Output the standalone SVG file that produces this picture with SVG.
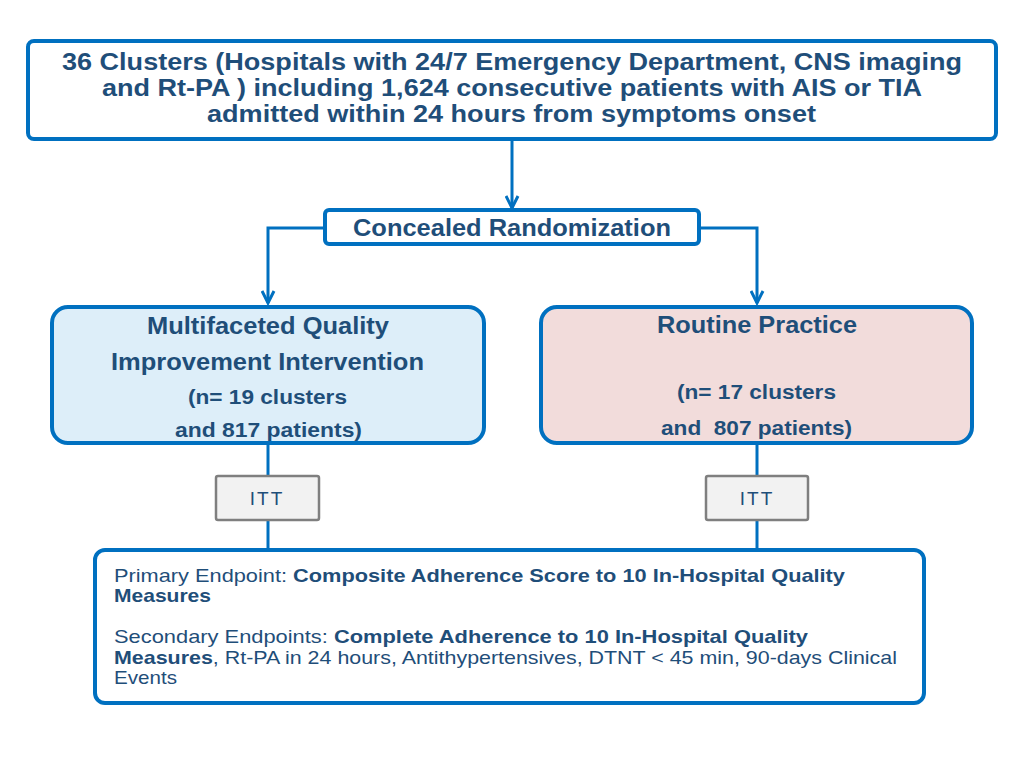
<svg xmlns="http://www.w3.org/2000/svg" width="1024" height="768" viewBox="0 0 1024 768">
<defs>
<style>
text{font-family:"Liberation Sans",Arial,sans-serif;fill:#1f4e79}
.b{font-weight:bold}
.box{stroke:#0070c0;stroke-width:4}
.ln{stroke:#0070c0;stroke-width:3;fill:none}
.itt{fill:#f2f2f2;stroke:#7f7f7f;stroke-width:2.5}
</style>
<marker id="ar" viewBox="0 0 10 10" refX="9" refY="5" markerWidth="5" markerHeight="5" orient="auto"><path d="M1,1 L9,5 L1,9" fill="none" stroke="#0070c0" stroke-width="2"/></marker>
</defs>
<g id="connectors">
<line class="ln" x1="512" y1="140" x2="512" y2="208" marker-end="url(#ar)"/>
<polyline class="ln" points="325,228 268,228 268,303" marker-end="url(#ar)"/>
<polyline class="ln" points="700,228 757,228 757,303" marker-end="url(#ar)"/>
<line class="ln" x1="268" y1="445" x2="268" y2="550"/>
<line class="ln" x1="757" y1="445" x2="757" y2="550"/>
</g>
<g id="top">
<rect class="box" x="28" y="41" width="968" height="98" rx="6" fill="#fff"/>
<text class="b" font-size="23" lengthAdjust="spacingAndGlyphs" x="62" y="70" textLength="900">36 Clusters (Hospitals with 24/7 Emergency Department, CNS imaging</text>
<text class="b" font-size="23" lengthAdjust="spacingAndGlyphs" x="102" y="96" textLength="820">and Rt-PA ) including 1,624 consecutive patients with AIS or TIA</text>
<text class="b" font-size="23" lengthAdjust="spacingAndGlyphs" x="207" y="122" textLength="609">admitted within 24 hours from symptoms onset</text>
</g>
<g id="rand">
<rect class="box" x="325" y="210" width="374" height="34" rx="4" fill="#fff"/>
<text class="b" font-size="23" x="353" y="236" textLength="318" lengthAdjust="spacingAndGlyphs">Concealed Randomization</text>
</g>
<g id="left">
<rect class="box" x="52" y="307" width="432" height="136" rx="16" fill="#ddeef9"/>
<text class="b" font-size="23" x="147" y="334" textLength="242" lengthAdjust="spacingAndGlyphs">Multifaceted Quality</text>
<text class="b" font-size="23" x="111" y="370" textLength="313" lengthAdjust="spacingAndGlyphs">Improvement Intervention</text>
<text class="b" font-size="20" x="188" y="404" textLength="159" lengthAdjust="spacingAndGlyphs">(n= 19 clusters</text>
<text class="b" font-size="20" x="175" y="437" textLength="187" lengthAdjust="spacingAndGlyphs">and 817 patients)</text>
</g>
<g id="right">
<rect class="box" x="541" y="307" width="431" height="136" rx="16" fill="#f2dcdb"/>
<text class="b" font-size="23" x="657" y="333" textLength="200" lengthAdjust="spacingAndGlyphs">Routine Practice</text>
<text class="b" font-size="20" x="677" y="399" textLength="159" lengthAdjust="spacingAndGlyphs">(n= 17 clusters</text>
<text class="b" font-size="20" x="661" y="435" textLength="191" lengthAdjust="spacingAndGlyphs" xml:space="preserve">and  807 patients)</text>
</g>
<g id="itt1"><rect class="itt" x="216" y="476" width="103" height="44" rx="2"/><text font-size="19" x="267" y="505" text-anchor="middle" letter-spacing="2" fill="#222">ITT</text></g>
<g id="itt2"><rect class="itt" x="706" y="476" width="102" height="44" rx="2"/><text font-size="19" x="757" y="505" text-anchor="middle" letter-spacing="2" fill="#222">ITT</text></g>
<g id="endpoints">
<rect class="box" x="95" y="550" width="829" height="153" rx="10" fill="#fff"/>
<text font-size="19" x="114" y="582" textLength="731" lengthAdjust="spacingAndGlyphs">Primary Endpoint: <tspan class="b">Composite Adherence Score to 10 In-Hospital Quality</tspan></text>
<text font-size="19" x="114" y="602" class="b" textLength="97" lengthAdjust="spacingAndGlyphs">Measures</text>
<text font-size="19" x="114" y="643" textLength="694" lengthAdjust="spacingAndGlyphs">Secondary Endpoints: <tspan class="b">Complete Adherence to 10 In-Hospital Quality</tspan></text>
<text font-size="19" x="114" y="664" textLength="783" lengthAdjust="spacingAndGlyphs"><tspan class="b">Measures</tspan>, Rt-PA in 24 hours, Antithypertensives, DTNT &lt; 45 min, 90-days Clinical</text>
<text font-size="19" x="114" y="684" textLength="63" lengthAdjust="spacingAndGlyphs">Events</text>
</g>
</svg>
